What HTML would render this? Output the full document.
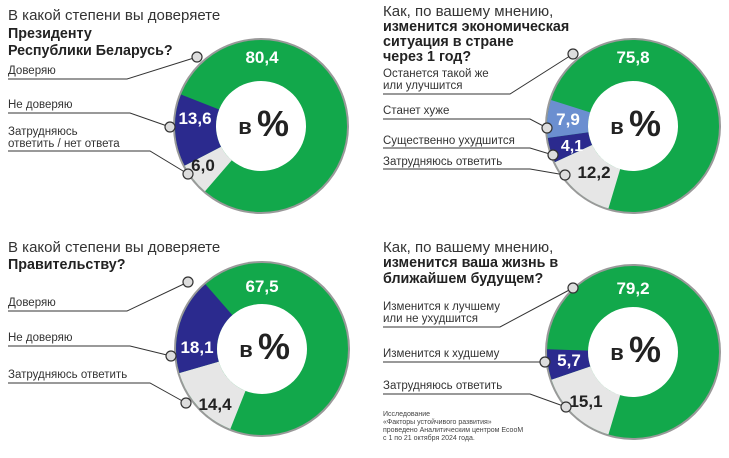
<!DOCTYPE html>
<html><head><meta charset="utf-8"><style>
html,body{margin:0;padding:0;background:#fff}
svg{display:block}
text{font-family:"Liberation Sans","DejaVu Sans",sans-serif}
.t{font-size:15px;fill:#333}
.b{font-size:14.3px;font-weight:bold;fill:#222}
.l{font-size:11.5px;fill:#333}
.n{font-size:17px;font-weight:bold;fill:#fff;text-anchor:middle}
.d{fill:#222}
.ln{stroke:#333;stroke-width:1;fill:none}
.dot{fill:#ddd;stroke:#333;stroke-width:1.2}
.fn{font-size:7px;fill:#444}
</style></head><body>
<svg width="729" height="458" viewBox="0 0 729 458">
<defs>
<g id="ctr">
<circle r="45" fill="#fff"/>
<text x="-16" y="8" font-size="22" font-weight="bold" fill="#222" text-anchor="middle">в</text>
<text x="12" y="10" font-size="36" font-weight="bold" fill="#222" text-anchor="middle">%</text>
</g>
</defs>

<!-- Chart 1 -->
<g transform="translate(261,126)">
<circle r="88" fill="#999"/>
<circle r="86" fill="#12a84b"/>
<g transform="rotate(131)" fill="none" stroke-width="41">
<circle r="65.5" pathLength="100" stroke="#e6e6e6" stroke-dasharray="6 94"/>
<circle r="65.5" pathLength="100" stroke="#2b2a8e" stroke-dasharray="0 6 13.6 80.4"/>
</g>
<use href="#ctr"/>
</g>
<text class="t" x="8" y="20">В какой степени вы доверяете</text>
<text class="b" x="8" y="38">Президенту</text>
<text class="b" x="8" y="55">Республики Беларусь?</text>
<text class="l" x="8" y="74">Доверяю</text>
<polyline class="ln" points="8,79 127,79 197,57"/>
<text class="l" x="8" y="108">Не доверяю</text>
<polyline class="ln" points="8,113 130,113 170,127"/>
<text class="l" x="8" y="135">Затрудняюсь</text>
<text class="l" x="8" y="147">ответить / нет ответа</text>
<polyline class="ln" points="8,151 150,151 188,174"/>
<circle class="dot" cx="197" cy="57" r="5"/>
<circle class="dot" cx="170" cy="127" r="5"/>
<circle class="dot" cx="188" cy="174" r="5"/>
<text class="n" x="262" y="63">80,4</text>
<text class="n" x="195" y="124">13,6</text>
<text class="n d" x="203" y="171">6,0</text>

<!-- Chart 2 -->
<g transform="translate(633,126)">
<circle r="88" fill="#999"/>
<circle r="86" fill="#12a84b"/>
<g transform="rotate(107)" fill="none" stroke-width="41">
<circle r="65.5" pathLength="100" stroke="#e6e6e6" stroke-dasharray="13.4 86.6"/>
<circle r="65.5" pathLength="100" stroke="#2b2a8e" stroke-dasharray="0 13.4 4.7 81.9"/>
<circle r="65.5" pathLength="100" stroke="#6b8fd0" stroke-dasharray="0 18.1 7.1 74.8"/>
</g>
<use href="#ctr"/>
</g>
<text class="t" x="383" y="16">Как, по вашему мнению,</text>
<text class="b" x="383" y="31">изменится экономическая</text>
<text class="b" x="383" y="46">ситуация в стране</text>
<text class="b" x="383" y="61">через 1 год?</text>
<text class="l" x="383" y="77">Останется такой же</text>
<text class="l" x="383" y="89">или улучшится</text>
<polyline class="ln" points="383,94 510,94 573,54"/>
<text class="l" x="383" y="114">Станет хуже</text>
<polyline class="ln" points="383,119 530,119 547,128"/>
<text class="l" x="383" y="144">Существенно ухудшится</text>
<polyline class="ln" points="383,148 530,148 553,155"/>
<text class="l" x="383" y="165">Затрудняюсь ответить</text>
<polyline class="ln" points="383,169 530,169 565,175"/>
<circle class="dot" cx="573" cy="54" r="5"/>
<circle class="dot" cx="547" cy="128" r="5"/>
<circle class="dot" cx="553" cy="155" r="5"/>
<circle class="dot" cx="565" cy="175" r="5"/>
<text class="n" x="633" y="63">75,8</text>
<text class="n" x="568" y="125">7,9</text>
<text class="n" x="572" y="151" style="font-size:16px">4,1</text>
<text class="n d" x="594" y="178">12,2</text>

<!-- Chart 3 -->
<g transform="translate(262,349)">
<circle r="88" fill="#999"/>
<circle r="86" fill="#12a84b"/>
<g transform="rotate(112)" fill="none" stroke-width="41">
<circle r="65.5" pathLength="100" stroke="#e6e6e6" stroke-dasharray="14.4 85.6"/>
<circle r="65.5" pathLength="100" stroke="#2b2a8e" stroke-dasharray="0 14.4 18.1 67.5"/>
</g>
<use href="#ctr"/>
</g>
<text class="t" x="8" y="252">В какой степени вы доверяете</text>
<text class="b" x="8" y="269">Правительству?</text>
<text class="l" x="8" y="306">Доверяю</text>
<polyline class="ln" points="8,311 127,311 188,282"/>
<text class="l" x="8" y="341">Не доверяю</text>
<polyline class="ln" points="8,346 130,346 171,356"/>
<text class="l" x="8" y="378">Затрудняюсь ответить</text>
<polyline class="ln" points="8,383 150,383 186,403"/>
<circle class="dot" cx="188" cy="282" r="5"/>
<circle class="dot" cx="171" cy="356" r="5"/>
<circle class="dot" cx="186" cy="403" r="5"/>
<text class="n" x="262" y="292">67,5</text>
<text class="n" x="197" y="353">18,1</text>
<text class="n d" x="215" y="410">14,4</text>

<!-- Chart 4 -->
<g transform="translate(633,352)">
<circle r="88" fill="#999"/>
<circle r="86" fill="#12a84b"/>
<g transform="rotate(107)" fill="none" stroke-width="41">
<circle r="65.5" pathLength="100" stroke="#e6e6e6" stroke-dasharray="15.1 84.9"/>
<circle r="65.5" pathLength="100" stroke="#2b2a8e" stroke-dasharray="0 15.1 5.7 79.2"/>
</g>
<use href="#ctr"/>
</g>
<text class="t" x="383" y="252">Как, по вашему мнению,</text>
<text class="b" x="383" y="267">изменится ваша жизнь в</text>
<text class="b" x="383" y="283">ближайшем будущем?</text>
<text class="l" x="383" y="310">Изменится к лучшему</text>
<text class="l" x="383" y="322">или не ухудшится</text>
<polyline class="ln" points="383,327 500,327 573,288"/>
<text class="l" x="383" y="357">Изменится к худшему</text>
<polyline class="ln" points="383,362 545,362"/>
<text class="l" x="383" y="389">Затрудняюсь ответить</text>
<polyline class="ln" points="383,394 530,394 566,407"/>
<circle class="dot" cx="573" cy="288" r="5"/>
<circle class="dot" cx="545" cy="362" r="5"/>
<circle class="dot" cx="566" cy="407" r="5"/>
<text class="n" x="633" y="294">79,2</text>
<text class="n" x="569" y="366">5,7</text>
<text class="n d" x="586" y="407">15,1</text>
<text class="fn" x="383" y="416">Исследование</text>
<text class="fn" x="383" y="424">«Факторы устойчивого развития»</text>
<text class="fn" x="383" y="432">проведено Аналитическим центром EcooM</text>
<text class="fn" x="383" y="440">с 1 по 21 октября 2024 года.</text>
</svg>
</body></html>
